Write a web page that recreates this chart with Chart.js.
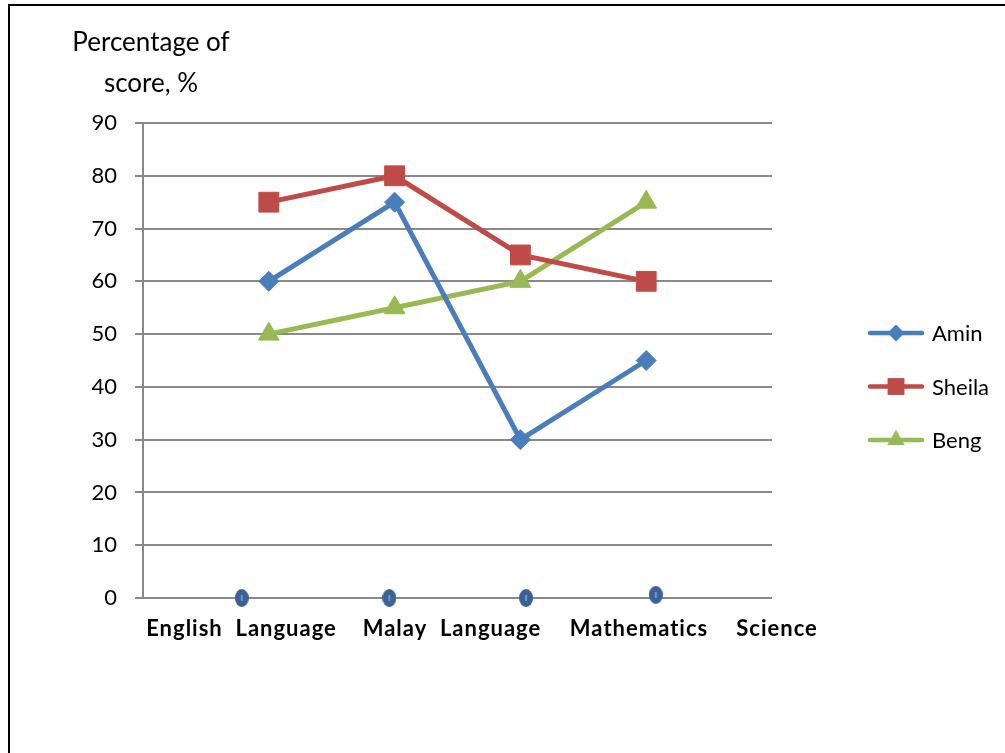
<!DOCTYPE html>
<html>
<head>
<meta charset="utf-8">
<script src="https://cdn.jsdelivr.net/npm/chart.js@4.4.1/dist/chart.umd.min.js"></script>
<style>
  html, body { margin: 0; padding: 0; background: #fff; }
  #wrap { position: relative; width: 1005px; height: 753px; overflow: hidden; }
  #frame { position: absolute; left: 8px; top: 4px; width: 1100px; height: 900px;
           border-left: 2px solid #000; border-top: 2px solid #000; }
  canvas { position: absolute; left: 0; top: 0; }
</style>
</head>
<body>
<div id="wrap">
  <div id="frame"></div>
  <canvas id="myChart" width="1005" height="753"></canvas>
</div>
<script>
// data
const subjects = ['English  Language', 'Malay  Language', 'Mathematics', 'Science'];
const students = ['Amin', 'Sheila', 'Beng'];
const amin = [60, 75, 30, 45];
const sheila = [75, 80, 65, 60];
const beng = [50, 55, 60, 75];
const yTicks = [0, 10, 20, 30, 40, 50, 60, 70, 80, 90];
// the small blue dots sitting on the zero line
const dotX = [0.785, 1.958, 3.045, 4.076];
const dotY = [0, 0, 0, 0.6];

const colors = ['#4A7EBB', '#BE4B48', '#98B954'];
const styles = ['rectRot', 'rect', 'triangle'];
const radii = [10, 14, 12];

const toPoints = (vals) => vals.map((v, i) => ({ x: i + 1, y: v }));

// dot marker (slightly tall ellipse)
const dot = document.createElement('canvas');
dot.width = 14; dot.height = 18;
(() => {
  const c = dot.getContext('2d');
  c.fillStyle = '#3C6196';
  c.beginPath(); c.ellipse(7, 9, 7, 9, 0, 0, Math.PI * 2); c.fill();
  c.fillStyle = '#6F98CC';
  c.fillRect(6, 6, 2, 6);
})();

function marker(ctx, style, x, y, r) {
  ctx.beginPath();
  if (style === 'rectRot') {
    ctx.moveTo(x - r, y); ctx.lineTo(x, y - r); ctx.lineTo(x + r, y); ctx.lineTo(x, y + r);
  } else if (style === 'rect') {
    const s = r * Math.SQRT1_2;
    ctx.rect(x - s, y - s, 2 * s, 2 * s);
  } else {
    const h = r * Math.cos(Math.PI / 6);
    ctx.moveTo(x, y - r); ctx.lineTo(x + h, y + r / 2); ctx.lineTo(x - h, y + r / 2);
  }
  ctx.closePath();
  ctx.fill();
}

const extras = {
  id: 'extras',
  afterDraw(chart) {
    const ctx = chart.ctx;
    ctx.save();
    // axis title
    ctx.fillStyle = '#000';
    ctx.textAlign = 'center';
    ctx.textBaseline = 'alphabetic';
    ctx.font = '26px Lato';
    ctx.fillText('Percentage of', 151, 51);
    ctx.fillText('score, %', 151, 92);

    // subject labels under the axis
    const x = chart.scales.x;
    const labelAt = [0.783, 2.456, 3.943, 5.04];
    ctx.font = 'bold 22px Lato';
    ctx.letterSpacing = '1px';
    subjects.forEach((s, i) => ctx.fillText(s, x.getPixelForValue(labelAt[i]), 636));
    ctx.letterSpacing = '0px';

    // legend
    ctx.textAlign = 'left';
    ctx.textBaseline = 'middle';
    ctx.font = '22px Lato';
    students.forEach((name, i) => {
      const y = 333 + i * 53.5;
      ctx.strokeStyle = colors[i];
      ctx.fillStyle = colors[i];
      ctx.lineWidth = 4.5;
      ctx.lineCap = 'round';
      ctx.beginPath(); ctx.moveTo(870, y); ctx.lineTo(922, y); ctx.stroke();
      marker(ctx, styles[i], 896, y, radii[i] * 0.85);
      ctx.fillStyle = '#000';
      ctx.fillText(name, 932, y + 1);
    });
    ctx.restore();
  }
};

const series = [amin, sheila, beng];
const datasets = series.map((vals, i) => ({
  label: students[i],
  data: toPoints(vals),
  borderColor: colors[i],
  backgroundColor: colors[i],
  borderWidth: 5,
  pointStyle: styles[i],
  pointRadius: radii[i],
  pointBorderWidth: 1,
  pointBorderColor: colors[i],
  pointBackgroundColor: colors[i],
  tension: 0,
  clip: false
}));
datasets.push({
  label: '',
  data: dotX.map((v, i) => ({ x: v, y: dotY[i] })),
  showLine: false,
  pointStyle: dot,
  pointRadius: 7,
  clip: false
});

new Chart(document.getElementById('myChart'), {
  type: 'line',
  data: { datasets },
  options: {
    responsive: false,
    animation: false,
    layout: { padding: { left: 0, top: 123, right: 233, bottom: 155 } },
    plugins: { legend: { display: false }, tooltip: { enabled: false } },
    scales: {
      x: { type: 'linear', min: 0, max: 5, display: false },
      y: {
        min: 0, max: 90,
        afterBuildTicks: (s) => { s.ticks = yTicks.map(v => ({ value: v })); },
        afterFit: (s) => { s.width = 143; },
        ticks: { color: '#000', font: { family: 'Lato', size: 22 }, padding: 18 },
        grid: { color: '#898989', lineWidth: 2, tickLength: 8 },
        border: { color: '#898989', width: 2 }
      }
    }
  },
  plugins: [extras]
});
</script>
</body>
</html>
